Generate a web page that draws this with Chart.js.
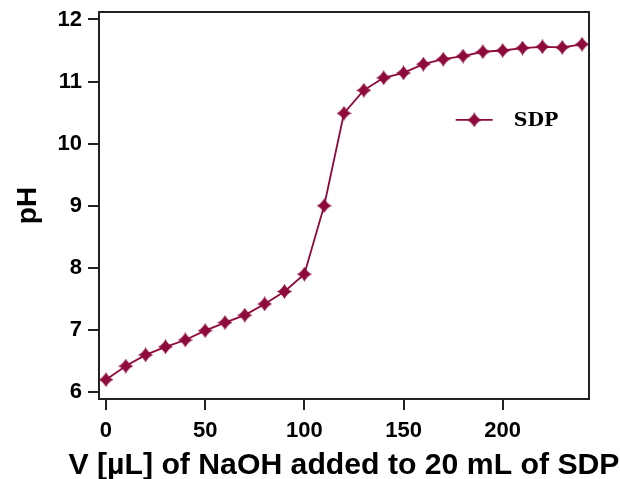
<!DOCTYPE html>
<html>
<head>
<meta charset="utf-8">
<script src="https://cdn.jsdelivr.net/npm/chart.js@4"></script>
<style>
  html, body { margin: 0; padding: 0; background: #fff; }
  #wrap { width: 620px; height: 479px; }
</style>
</head>
<body>
<div id="wrap"><canvas id="phChart" width="620" height="479"></canvas></div>
<script>
const volumes = [0, 10, 20, 30, 40, 50, 60, 70, 80, 90, 100, 110, 120, 130, 140, 150, 160, 170, 180, 190, 200, 210, 220, 230, 240];
const phValues = [6.20, 6.42, 6.60, 6.73, 6.84, 6.99, 7.12, 7.24, 7.42, 7.62, 7.90, 9.00, 10.49, 10.86, 11.06, 11.14, 11.28, 11.36, 11.41, 11.48, 11.50, 11.54, 11.56, 11.55, 11.60];
const seriesName = "SDP";
const xTitle = "V [\u00b5L] of NaOH added to 20 mL of SDP";
const yTitle = "pH";

const lineColor = "#8e0a3c";

// 4-pointed star marker
const makeStar = (size) => {
  const c = document.createElement("canvas");
  c.width = size;
  c.height = size;
  const g = c.getContext("2d");
  const m = size / 2, r = size / 2, k = size * 0.16;
  g.fillStyle = lineColor;
  g.beginPath();
  g.moveTo(m, m - r);
  g.quadraticCurveTo(m + k, m - k, m + r, m);
  g.quadraticCurveTo(m + k, m + k, m, m + r);
  g.quadraticCurveTo(m - k, m + k, m - r, m);
  g.quadraticCurveTo(m - k, m - k, m, m - r);
  g.closePath();
  g.fill();
  return c;
};
const star = makeStar(15);

const tickFont = { family: "'Liberation Sans', Arial, sans-serif", size: 22, weight: "bold" };

// frame, legend and the x title (wider than the axis, so drawn here)
const framePlugin = {
  id: "frame",
  afterDraw(chart) {
    const { ctx, chartArea: a } = chart;
    ctx.save();
    ctx.strokeStyle = "#222";
    ctx.lineWidth = 2;
    ctx.strokeRect(a.left, a.top, a.right - a.left, a.bottom - a.top);

    const lx = a.left + (a.right - a.left) * 0.728;
    const ly = a.top + (a.bottom - a.top) * 0.279;
    ctx.strokeStyle = lineColor;
    ctx.lineWidth = 1.8;
    ctx.beginPath();
    ctx.moveTo(lx, ly);
    ctx.lineTo(lx + 37, ly);
    ctx.stroke();
    ctx.drawImage(star, lx + 18.5 - star.width / 2, ly - star.height / 2);
    ctx.fillStyle = "#000";
    ctx.font = "bold 19px 'DejaVu Serif', serif";
    ctx.textBaseline = "middle";
    ctx.fillText(seriesName, lx + 58, ly + 1);

    ctx.font = "bold 30px 'Liberation Sans', Arial, sans-serif";
    ctx.textBaseline = "alphabetic";
    ctx.textAlign = "center";
    const w = ctx.measureText(xTitle).width;
    const sx = 551 / w;
    ctx.translate((a.left + a.right) / 2, chart.height - 5);
    ctx.scale(sx, 1);
    ctx.fillText(xTitle, 0, 0);
    ctx.restore();
  }
};

const ctx = document.getElementById("phChart").getContext("2d");
new Chart(ctx, {
  type: "line",
  data: {
    datasets: [{
      label: seriesName,
      data: volumes.map((v, i) => ({ x: v, y: phValues[i] })),
      borderColor: lineColor,
      backgroundColor: lineColor,
      borderWidth: 1.8,
      pointStyle: star,
      pointRadius: 8,
      fill: false,
      tension: 0,
    }],
  },
  options: {
    responsive: false,
    animation: false,
    layout: { padding: { top: 12, right: 31, left: 0, bottom: 0 } },
    plugins: {
      legend: { display: false },
      tooltip: { enabled: false },
    },
    scales: {
      x: {
        type: "linear",
        min: -3.5,
        max: 243.5,
        afterFit: (s) => { s.height = 80; s.paddingLeft = 0; s.paddingRight = 0; },
        ticks: {
          stepSize: 50,
          includeBounds: false,
          color: "#000",
          font: tickFont,
          padding: 8,
          maxRotation: 0,
        },
        grid: { drawOnChartArea: false, drawTicks: true, tickLength: 11, color: "#222", lineWidth: 2 },
        border: { display: true, color: "#222", width: 2 },
        title: { display: false },
      },
      y: {
        type: "linear",
        min: 5.89,
        max: 12.12,
        afterFit: (s) => { s.width = 99; s.paddingTop = 0; s.paddingBottom = 0; },
        ticks: {
          stepSize: 1,
          includeBounds: false,
          color: "#000",
          font: tickFont,
          padding: 6,
        },
        grid: { drawOnChartArea: false, drawTicks: true, tickLength: 11, color: "#222", lineWidth: 2 },
        border: { display: true, color: "#222", width: 2 },
        title: { display: true, text: yTitle, color: "#000", font: { family: "'Liberation Sans', Arial, sans-serif", size: 28, weight: "bold" }, padding: { top: 11, bottom: 0 } },
      },
    },
  },
  plugins: [framePlugin],
});
</script>
</body>
</html>
